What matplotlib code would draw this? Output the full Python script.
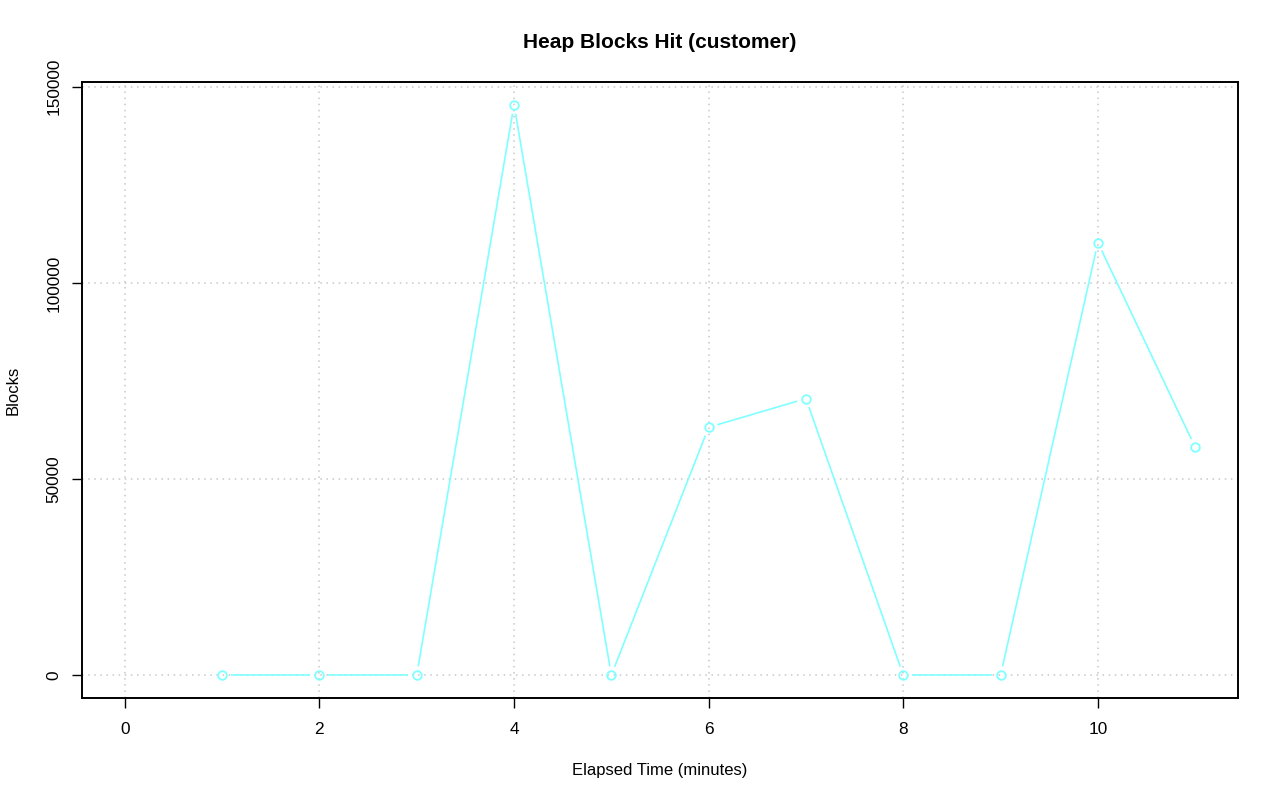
import numpy as np
import matplotlib.pyplot as plt

# Data
minutes = [1, 2, 3, 4, 5, 6, 7, 8, 9, 10, 11]
blocks = [0, 0, 0, 145400, 0, 63200, 70500, 0, 0, 110300, 58100]
x_ticks = [0, 2, 4, 6, 8, 10]
y_ticks = [0, 50000, 100000, 150000]

plt.rcParams['font.family'] = ['Liberation Sans', 'DejaVu Sans']

W, H, DPI = 1280, 801, 100
fig = plt.figure(figsize=(W / DPI, H / DPI), dpi=DPI)
ax = fig.add_axes([82 / W, (H - 698) / H, (1238 - 82) / W, (698 - 82) / H])

# R-style 4% axis extension
x_lo, x_hi = 0, max(minutes)
y_lo, y_hi = 0, max(blocks)
dx, dy = 0.04 * (x_hi - x_lo), 0.04 * (y_hi - y_lo)
ax.set_xlim(x_lo - dx, x_hi + dx)
ax.set_ylim(y_lo - dy, y_hi + dy)

# grid
for t in x_ticks:
    ax.axvline(t, color='#C8C8C8', lw=1.1, ls=(0, (1, 3)), zorder=0)
for t in y_ticks:
    ax.axhline(t, color='#C8C8C8', lw=1.1, ls=(0, (1, 3)), zorder=0)

# type="b": line segments with gaps around points
col = '#80FFFF'
gap = 9.0
fig.canvas.draw()
pts = ax.transData.transform(np.column_stack([minutes, blocks]))
inv = ax.transData.inverted()
for p0, p1 in zip(pts[:-1], pts[1:]):
    d = p1 - p0
    L = np.hypot(*d)
    if L <= 2 * gap:
        continue
    u = d / L
    a = inv.transform(p0 + u * gap)
    b = inv.transform(p1 - u * gap)
    ax.plot([a[0], b[0]], [a[1], b[1]], color=col, lw=1.2, solid_capstyle='butt')
ax.plot(minutes, blocks, 'o', mfc='none', mec=col, mew=1.3, ms=6.2, ls='none')

ax.set_xticks(x_ticks)
ax.set_yticks(y_ticks)
ax.set_yticklabels([str(t) for t in y_ticks], rotation=90, va='center')
ax.tick_params(direction='out', length=7, width=1.0, labelsize=12.4)
ax.tick_params(axis='x', pad=10.5)
ax.tick_params(axis='y', pad=8)
for s in ax.spines.values():
    s.set_linewidth(1.4)

fig.text(660 / W, 1 - 42 / H, 'Heap Blocks Hit (customer)', fontsize=15,
         fontweight='bold', ha='center', va='center')
fig.text(660 / W, 1 - 770 / H, 'Elapsed Time (minutes)', fontsize=12,
         ha='center', va='center')
fig.text(13 / W, 1 - 390 / H, 'Blocks', fontsize=12, rotation=90,
         ha='center', va='center')

fig.savefig('out.png', dpi=DPI)
